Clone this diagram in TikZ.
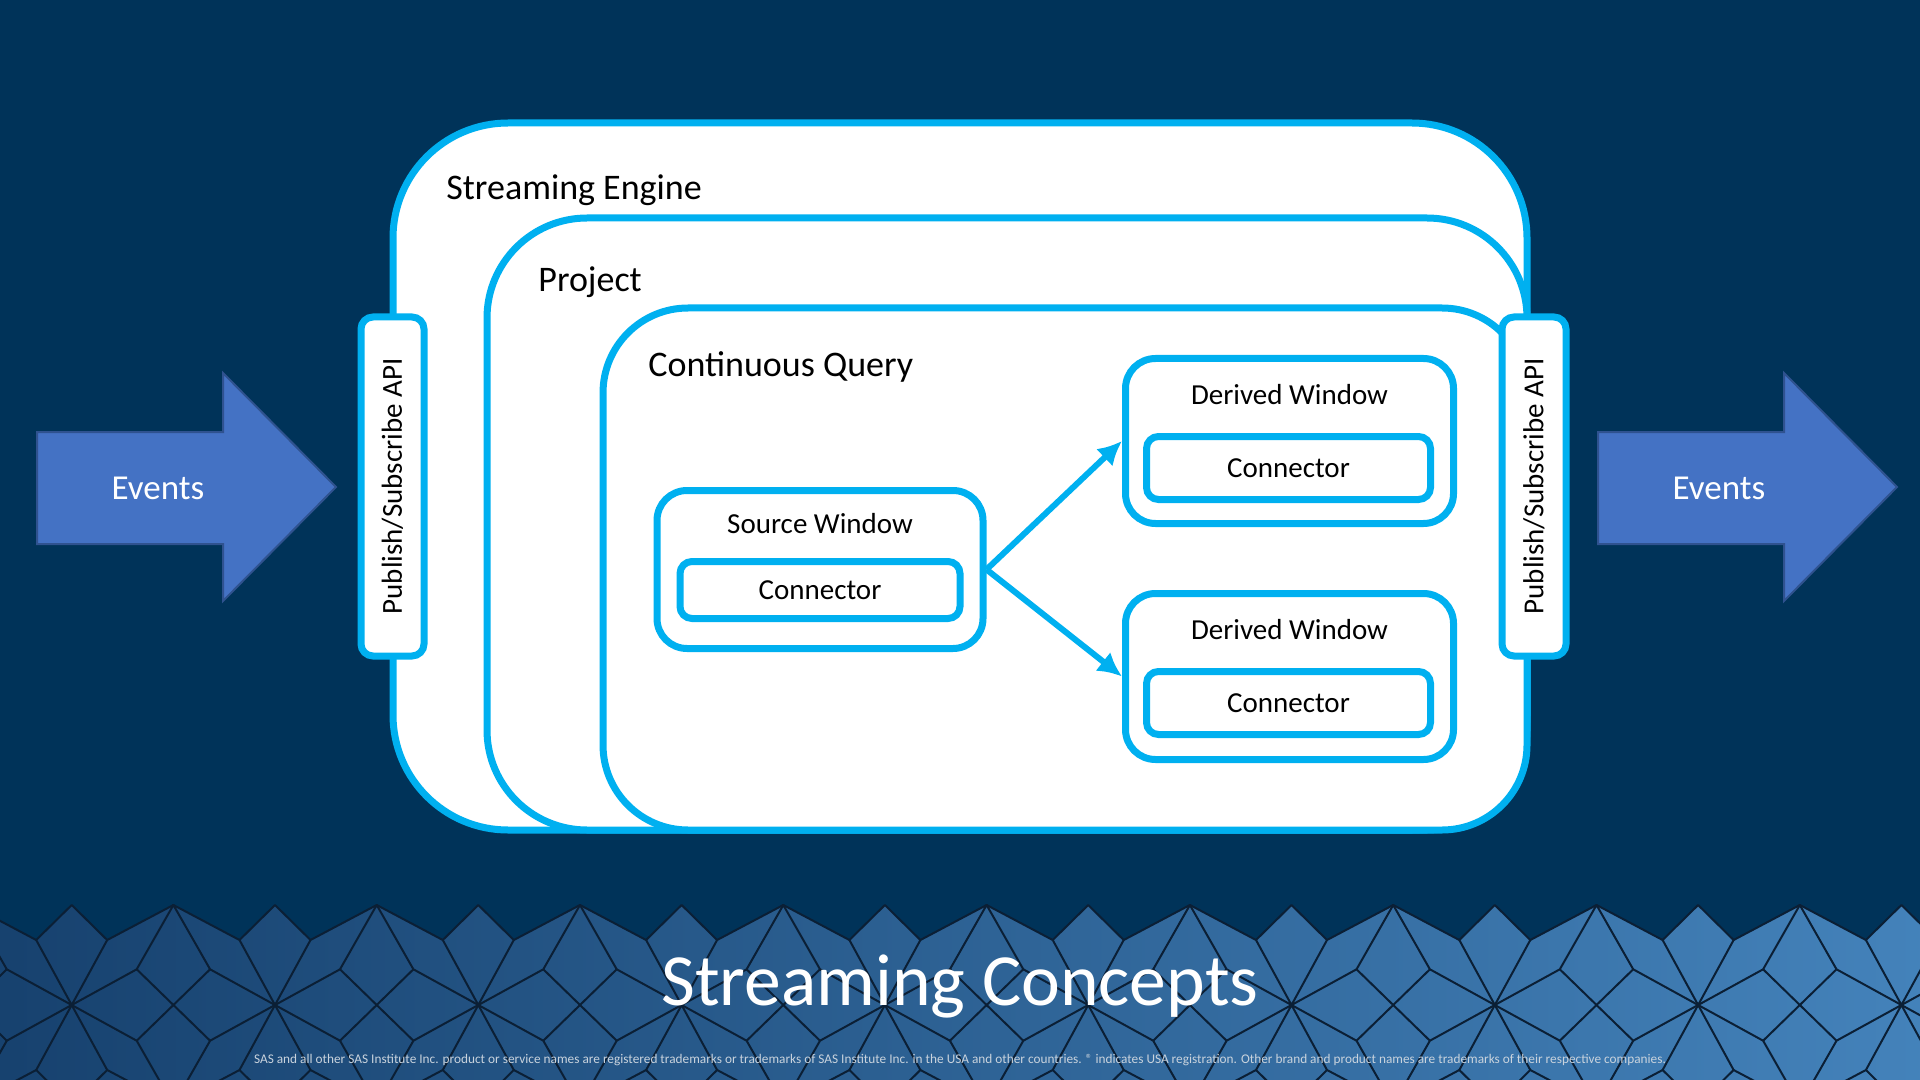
\documentclass[tikz,border=0pt]{standalone}
\usepackage{fontspec}
\setmainfont{Carlito}
\usepackage{xcolor}
\definecolor{BGCOLOR}{HTML}{003359}
\definecolor{LINECOLOR}{HTML}{00B0F0}
\definecolor{EVENTCOLOR}{HTML}{4472C4}
\definecolor{EVENTBORDER}{HTML}{2F528F}
\definecolor{BANDLEFT}{HTML}{133C68}
\definecolor{BANDRIGHT}{HTML}{4787C0}
\definecolor{BANDLINE}{HTML}{0B1F35}
\definecolor{NOTECOLOR}{HTML}{C9D3DD}
\usepackage{tikz}
\usetikzlibrary{arrows.meta,positioning,calc}
\tikzset{
  basic-style/.style = {
    rectangle, rounded corners=#1, draw=LINECOLOR, line width=3.5pt,
    fill=white, inner sep=0pt
  },
  frame-style/.style = {
    draw=LINECOLOR, line width=3.5pt, fill=white
  },
  frame-label-style/.style = {
    anchor=base west, inner sep=0pt,
    font=\fontsize{18}{21}\selectfont
  },
  window-style/.style = {
    basic-style=15pt,
    minimum width=164pt,
    minimum height=#1
  },
  conn-style/.style = {
    basic-style=6pt,
    font=\fontsize{14.5}{17}\selectfont
  },
  label-style/.style = {
    inner sep=0pt, font=\fontsize{14.5}{17}\selectfont
  },
  api-style/.style = {
    basic-style=6pt,
    minimum height=169.5pt,
    font=\fontsize{14.5}{17}\selectfont
  },
  event-style/.style = {
    fill=EVENTCOLOR, draw=EVENTBORDER, line width=1pt
  },
  event-text-style/.style = {
    inner sep=0pt, text=white, font=\fontsize{17.5}{20}\selectfont
  },
  band-line-style/.style = {
    draw=BANDLINE, line width=1pt, line join=round
  },
  title-style/.style = {
    anchor=base, inner sep=0pt, text=white,
    font=\fontsize{36.8}{40}\selectfont
  },
  note-style/.style = {
    anchor=base, inner sep=0pt, text=NOTECOLOR,
    font=\fontsize{6.65}{8}\selectfont
  },
  every edge/.style = {draw=LINECOLOR, line width=3pt, -{Latex[length=12pt,width=12pt]}}
}
\newcommand\createEventArrow[2]{
  \fill[event-style] (#2,432) -- ++(186,0) -- ++(0,-59) -- ++(113,114)
    -- ++(-113,114) -- ++(0,-57) -- ++(-186,0) -- cycle;
  \node[event-text-style] (#1) at (#2+121,488) {Events};
}

\begin{document}
\begin{tikzpicture}[x=0.5pt,y=-0.5pt]
    \useasboundingbox (0,0) rectangle (1920,1080);
    \fill[BGCOLOR] (0,0) rectangle (1920,1080);

    %%% band
    \shade[left color=BANDLEFT, right color=BANDRIGHT]
      (0,1080) -- (0,940) -- (-167.1,940)
      \foreach \k in {-1,...,9} {
        -- ({71.7+203.3*\k-35.5},940) -- ({71.7+203.3*\k},905)
        -- ({71.7+203.3*\k+35.5},940) -- ({71.7+203.3*\k+101.7},905)
      }
      -- (2069.2,940) -- (2069.2,1080) -- cycle;
    \begin{scope}
      \clip (0,900) rectangle (1920,1080);
      \foreach \k in {-1,...,9} {
        \pgfmathsetmacro\xa{71.7+203.3*\k}
        \foreach \s in {1,-1} {
          \draw[band-line-style]
            (\xa-35.5,{1005-65*(\s)}) -- (\xa,{1005-100*(\s)})
            -- (\xa+35.5,{1005-65*(\s)}) -- (\xa+101.7,{1005-100*(\s)})
            -- (\xa+167.8,{1005-65*(\s)});
          \draw[band-line-style]
            (\xa-35.5,{1005-65*(\s)}) -- (\xa,1005) -- (\xa+35.5,{1005-65*(\s)});
          \draw[band-line-style]
            (\xa,1005) -- (\xa+65,{1005-35.7*(\s)}) -- (\xa+101.7,{1005-100*(\s)})
            -- (\xa+138.4,{1005-35.7*(\s)}) -- (\xa+203.3,1005);
          \draw[band-line-style]
            (\xa+65,{1005-35.7*(\s)}) -- (\xa+101.7,1005) -- (\xa+138.4,{1005-35.7*(\s)});
        }
      }
    \end{scope}

    %%% streaming engine, project, continuous query
    \draw[frame-style, rounded corners=57.5pt] (393,123) rectangle (1527,830);
    \node[frame-label-style] (engineLabel) at (446,200) {Streaming Engine};
    \draw[frame-style] (1000,830) [rounded corners=50pt] -- (487,830) -- (487,218)
      -- (1527,218) -- (1527,830) [rounded corners=57.5pt] -- cycle;
    \node[frame-label-style] (projectLabel) at (538,292) {Project};
    \draw[frame-style] (1000,830) [rounded corners=42.5pt] -- (603,830) -- (603,308)
      -- (1527,308) -- (1527,830) [rounded corners=57.5pt] -- cycle;
    \node[frame-label-style] (queryLabel) at (648,377) {Continuous Query};

    %%% windows
    \node[window-style=79pt, minimum width=163pt] (srcWin) at (820,569.5) {};
    \node[label-style] (srcLabel) at ($(srcWin)+(0,-46)$) {Source Window};
    \node[conn-style, minimum width=140pt, minimum height=28.5pt] (srcConn)
      at ($(srcWin)+(0,20.5)$) {Connector};

    \node[window-style=82.5pt] (derWinA) at (1289.5,441) {};
    \node[label-style] (derLabelA) at ($(derWinA)+(0,-46)$) {Derived Window};
    \node[conn-style, minimum width=142pt, minimum height=31.5pt] (derConnA)
      at ($(derWinA)+(-1,27)$) {Connector};

    \node[window-style=83pt] (derWinB) at (1289.5,676.5) {};
    \node[label-style] (derLabelB) at ($(derWinB)+(0,-46.5)$) {Derived Window};
    \node[conn-style, minimum width=142pt, minimum height=31.5pt] (derConnB)
      at ($(derWinB)+(-1,26.5)$) {Connector};

    %%% arrows
    \path (srcWin.east) edge (derWinA.west);
    \path (srcWin.east) edge (derWinB.west);

    %%% publish/subscribe
    \node[api-style, minimum width=31.5pt] (apiIn) at (392.5,486.5)
      {\rotatebox{90}{Publish/Subscribe API}};
    \node[api-style, minimum width=32pt] (apiOut) at (1534,486.5)
      {\rotatebox{90}{Publish/Subscribe API}};

    %%% events
    \createEventArrow{eventsIn}{37}
    \createEventArrow{eventsOut}{1598}

    %%% title
    \node[title-style] (title) at (960,1005) {Streaming Concepts};
    \node[note-style] (note) at (960,1063) {SAS and all other SAS Institute Inc. product or service names are registered trademarks or trademarks of SAS Institute Inc. in the USA and other countries. ® indicates USA registration. Other brand and product names are trademarks of their respective companies.};
\end{tikzpicture}
\end{document}
